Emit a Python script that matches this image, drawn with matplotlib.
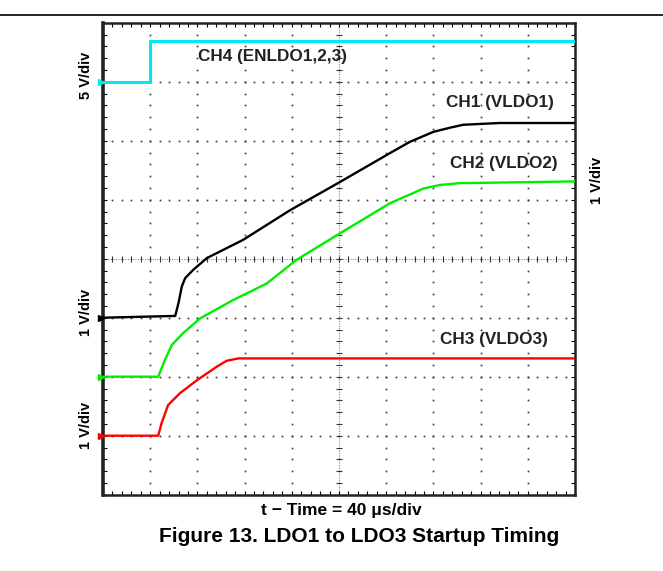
import matplotlib

matplotlib.use("Agg")
import matplotlib.pyplot as plt
import numpy as np
from matplotlib.lines import Line2D
from matplotlib.ticker import MultipleLocator

plt.rcParams["font.family"] = ["Liberation Sans", "DejaVu Sans"]
plt.rcParams["font.weight"] = "bold"

# scope traces, in screen divisions (x: 10 div of 40 us, y: 8 div)
ch4_t = [0.0, 1.0, 1.0, 10.0]
ch4_v = [7.0, 7.0, 7.69, 7.69]

ch1_t = [0.0, 1.53, 1.60, 1.67, 1.74, 1.91, 2.20, 2.97, 3.96, 5.02, 6.08, 6.50, 7.0, 7.35, 7.63, 8.41, 10.0]
ch1_v = [3.0, 3.03, 3.25, 3.53, 3.67, 3.81, 4.01, 4.32, 4.82, 5.30, 5.79, 5.98, 6.15, 6.22, 6.27, 6.30, 6.30]

ch2_t = [0.0, 1.17, 1.31, 1.46, 1.70, 2.06, 2.76, 3.47, 4.10, 5.02, 6.08, 6.79, 7.14, 7.56, 10.0]
ch2_v = [2.0, 2.0, 2.28, 2.54, 2.74, 2.99, 3.30, 3.58, 3.98, 4.43, 4.94, 5.19, 5.25, 5.28, 5.31]

ch3_t = [0.0, 1.17, 1.24, 1.38, 1.63, 1.99, 2.41, 2.62, 2.87, 10.0]
ch3_v = [1.0, 1.0, 1.21, 1.52, 1.72, 1.94, 2.17, 2.27, 2.31, 2.31]

channels = [
    ("CH4 (ENLDO1,2,3)", ch4_t, ch4_v, "#00E8F0", 2.2, (2.01, 7.42)),
    ("CH1 (VLDO1)", ch1_t, ch1_v, "black", 1.7, (7.27, 6.64)),
    ("CH2 (VLDO2)", ch2_t, ch2_v, "#00EE00", 1.7, (7.35, 5.62)),
    ("CH3 (VLDO3)", ch3_t, ch3_v, "#FF0000", 1.7, (7.14, 2.63)),
]

fig = plt.figure(figsize=(6.63, 5.71), dpi=100)
ax = fig.add_axes([103 / 663, 76.3 / 571, 472 / 663, 472 / 571])
ax.set_xlim(0, 10)
ax.set_ylim(0, 8)

# graticule: dotted grid on every division, finer center cross
dot_pos = np.arange(0, 10.01, 0.2)
dot_pos_y = np.arange(0, 8.01, 0.2)
for gx in range(1, 10):
    if gx == 5:
        continue
    ax.plot(np.full_like(dot_pos_y, gx), dot_pos_y, ls="none", marker="s",
            ms=1.2, mew=0, color="#333333", zorder=1)
for gy in range(1, 8):
    if gy == 4:
        continue
    ax.plot(dot_pos, np.full_like(dot_pos, gy), ls="none", marker="s",
            ms=1.2, mew=0, color="#333333", zorder=1)
ax.axvline(5, color="#888888", lw=0.8, ls=(0, (1, 1.2)), zorder=1)
ax.axhline(4, color="#888888", lw=0.8, ls=(0, (1, 1.2)), zorder=1)
ax.plot(np.full_like(dot_pos_y, 5), dot_pos_y, ls="none", marker="_",
        ms=4, mew=0.8, color="#333333", zorder=1)
ax.plot(dot_pos, np.full_like(dot_pos, 4), ls="none", marker="|",
        ms=4, mew=0.8, color="#333333", zorder=1)

for label, t, v, color, lw, (tx, ty) in channels:
    ax.plot(t, v, color=color, lw=lw, solid_joinstyle="round", zorder=3)
    ax.plot([-0.05], [v[0]], marker=">", ms=5, color=color, clip_on=False, zorder=4)
    ax.text(tx, ty, label, fontsize=12.3, fontweight="bold", color="#222222",
            ha="left", va="center")

ax.xaxis.set_major_locator(MultipleLocator(1))
ax.yaxis.set_major_locator(MultipleLocator(1))
ax.xaxis.set_minor_locator(MultipleLocator(0.2))
ax.yaxis.set_minor_locator(MultipleLocator(0.2))
ax.tick_params(which="both", direction="in", top=True, right=True, length=3,
               width=0.8, labelbottom=False, labelleft=False)
for side in ax.spines.values():
    side.set_linewidth(1.8)
    side.set_color("#222222")
ax.spines["left"].set_linewidth(2.6)

# per-channel scale labels
fig.text(86 / 663, 1 - 75 / 571, "5 V/div", rotation=90, fontsize=10.5,
         fontweight="bold", ha="center", va="center")
fig.text(86 / 663, 1 - 312 / 571, "1 V/div", rotation=90, fontsize=10.5,
         fontweight="bold", ha="center", va="center")
fig.text(86 / 663, 1 - 425 / 571, "1 V/div", rotation=90, fontsize=10.5,
         fontweight="bold", ha="center", va="center")
fig.text(597 / 663, 1 - 180 / 571, "1 V/div", rotation=90, fontsize=10.5,
         fontweight="bold", ha="center", va="center")

fig.text(341 / 663, 1 - 511 / 571, "t \u2212 Time = 40 \u03bcs/div", fontsize=12.5,
         fontweight="bold", ha="center", va="center")
fig.text(359 / 663, 1 - 537 / 571, "Figure 13. LDO1 to LDO3 Startup Timing",
         fontsize=15, fontweight="bold", ha="center", va="center")

fig.add_artist(Line2D([0, 1], [1 - 15 / 571] * 2, color="black", lw=1.2))

fig.savefig("out.png", dpi=100)
